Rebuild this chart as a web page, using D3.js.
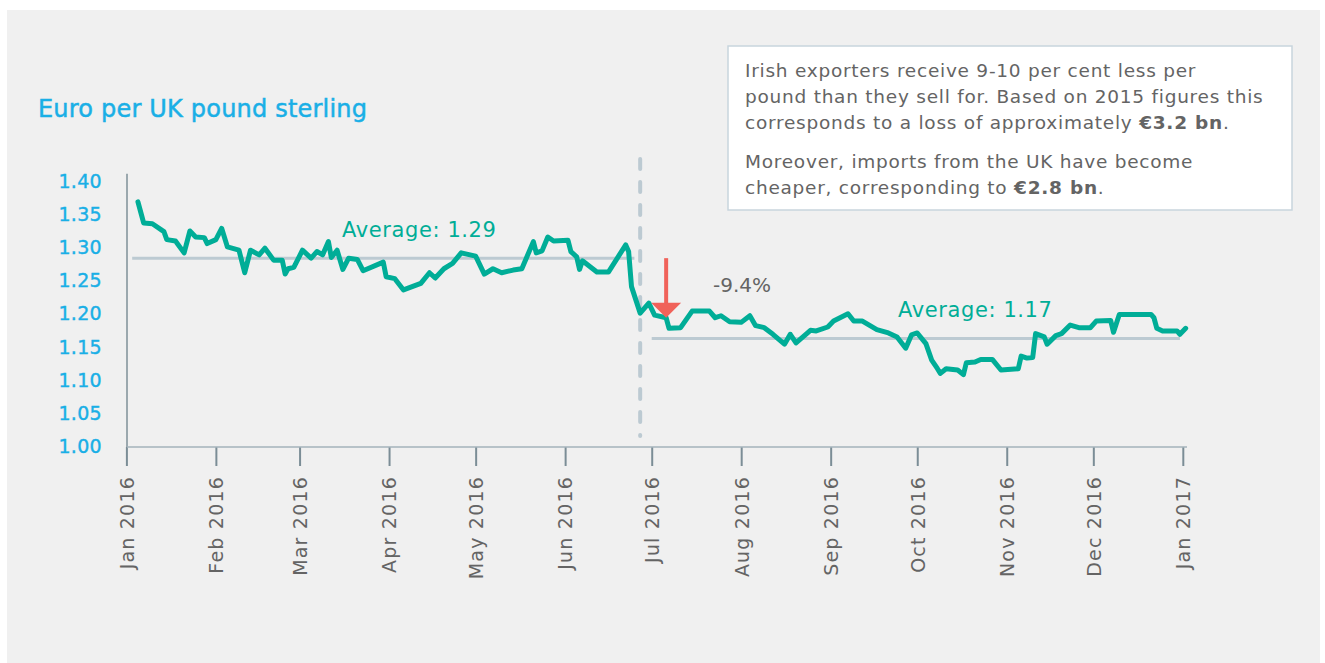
<!DOCTYPE html>
<html>
<head>
<meta charset="utf-8">
<script src="https://cdn.jsdelivr.net/npm/d3@7"></script>
<style>
  html, body { margin: 0; padding: 0; background: #ffffff; }
  svg { display: block; font-family: "DejaVu Sans", sans-serif; }
</style>
</head>
<body>
<svg id="chart" width="1325" height="663"></svg>
<script>
// ---------- DATA ----------
const dates = [
  "2016-01-05","2016-01-06","2016-01-07","2016-01-10","2016-01-14","2016-01-15","2016-01-18","2016-01-21","2016-01-23","2016-01-25",
  "2016-01-28","2016-01-29","2016-02-01","2016-02-03","2016-02-05","2016-02-09","2016-02-11","2016-02-13","2016-02-16","2016-02-18",
  "2016-02-21","2016-02-24","2016-02-25","2016-02-26","2016-02-28","2016-03-02","2016-03-05","2016-03-07","2016-03-09","2016-03-11",
  "2016-03-12","2016-03-14","2016-03-16","2016-03-18","2016-03-21","2016-03-23","2016-03-30","2016-03-31","2016-04-03","2016-04-06",
  "2016-04-12","2016-04-15","2016-04-17","2016-04-20","2016-04-23","2016-04-26","2016-05-01","2016-05-04","2016-05-07","2016-05-10",
  "2016-05-14","2016-05-17","2016-05-21","2016-05-22","2016-05-24","2016-05-26","2016-05-28","2016-06-02","2016-06-03","2016-06-05",
  "2016-06-06","2016-06-07","2016-06-12","2016-06-16","2016-06-22","2016-06-23","2016-06-24","2016-06-27","2016-06-30","2016-07-02",
  "2016-07-06","2016-07-07","2016-07-11","2016-07-15","2016-07-21","2016-07-23","2016-07-25","2016-07-28","2016-08-01","2016-08-04",
  "2016-08-06","2016-08-09","2016-08-12","2016-08-16","2016-08-18","2016-08-20","2016-08-25","2016-08-27","2016-08-31","2016-09-02",
  "2016-09-07","2016-09-09","2016-09-12","2016-09-17","2016-09-21","2016-09-24","2016-09-27","2016-09-29","2016-10-01","2016-10-04",
  "2016-10-06","2016-10-08","2016-10-09","2016-10-11","2016-10-15","2016-10-17","2016-10-18","2016-10-21","2016-10-23","2016-10-27",
  "2016-10-30","2016-11-05","2016-11-06","2016-11-08","2016-11-10","2016-11-11","2016-11-14","2016-11-15","2016-11-18","2016-11-20",
  "2016-11-23","2016-11-26","2016-11-30","2016-12-02","2016-12-07","2016-12-08","2016-12-10","2016-12-21","2016-12-22","2016-12-23",
  "2016-12-25","2016-12-30","2016-12-31","2017-01-02"
];
const eurPerGbp = [
  1.368,1.352,1.336,1.335,1.323,1.311,1.309,1.291,1.324,1.315,
  1.314,1.305,1.311,1.328,1.300,1.295,1.261,1.295,1.288,1.298,
  1.280,1.280,1.259,1.267,1.269,1.295,1.283,1.293,1.288,1.308,
  1.284,1.295,1.266,1.283,1.281,1.264,1.277,1.255,1.252,1.235,
  1.245,1.261,1.253,1.267,1.275,1.291,1.286,1.259,1.267,1.261,
  1.265,1.267,1.308,1.291,1.294,1.315,1.309,1.310,1.293,1.285,
  1.266,1.279,1.262,1.262,1.303,1.293,1.240,1.200,1.215,1.197,
  1.193,1.177,1.178,1.203,1.203,1.193,1.196,1.187,1.186,1.196,
  1.181,1.178,1.168,1.153,1.168,1.155,1.174,1.173,1.179,1.188,
  1.199,1.188,1.188,1.175,1.170,1.164,1.147,1.167,1.170,1.154,
  1.129,1.116,1.109,1.116,1.114,1.107,1.125,1.126,1.130,1.130,
  1.114,1.116,1.135,1.132,1.133,1.169,1.164,1.153,1.166,1.169,
  1.182,1.178,1.178,1.188,1.189,1.171,1.198,1.198,1.193,1.177,
  1.173,1.173,1.168,1.177
];
const yTicks = [1.00, 1.05, 1.10, 1.15, 1.20, 1.25, 1.30, 1.35, 1.40];
const xTickDates = ["2016-01-01","2016-02-01","2016-03-01","2016-04-01","2016-05-01","2016-06-01",
                    "2016-07-01","2016-08-01","2016-09-01","2016-10-01","2016-11-01","2016-12-01","2017-01-01"];
const averageLabels = ["Average: 1.29", "Average: 1.17"];
const averageValues = [1.283, 1.1615];
const averageStart = ["2016-01-03", "2016-07-01"];
const averageEnd = ["2016-06-25", "2016-12-31"];
const referendumDate = "2016-06-27";
const arrowDate = "2016-07-06";
const arrowFrom = 1.283;
const arrowTo = 1.193;
const changeLabel = "-9.4%";
const title = "Euro per UK pound sterling";
const noteLines = [
  [["Irish exporters receive 9-10 per cent less per", false]],
  [["pound than they sell for. Based on 2015 figures this", false]],
  [["corresponds to a loss of approximately ", false], ["€3.2 bn", true], [".", false]],
  [["Moreover, imports from the UK have become", false]],
  [["cheaper, corresponding to ", false], ["€2.8 bn", true], [".", false]]
];

// ---------- CHART ----------
const parse = d3.utcParse("%Y-%m-%d");
const series = dates.map((d, i) => ({ date: parse(d), value: eurPerGbp[i] }));

const svg = d3.select("#chart");
const W = 1325, H = 663;

svg.append("rect").attr("x", 7).attr("y", 10).attr("width", 1313).attr("height", H - 10)
  .attr("fill", "#f0f0f0");

const x = d3.scaleUtc().domain([parse("2016-01-01"), parse("2017-01-01")]).range([126.4, 1182.8]);
const y = d3.scaleLinear().domain([1.0, 1.4]).range([445.5, 180.7]);

const blue = "#1aafe6";
const teal = "#00ad97";
const grey = "#646464";
const avgColor = "#bccad2";

// title
svg.append("text").attr("x", 38).attr("y", 117).text(title)
  .attr("font-size", 24).attr("letter-spacing", 0.2)
  .attr("fill", blue).attr("stroke", blue).attr("stroke-width", 0.5);

// y axis
const yAxis = d3.axisLeft(y).tickValues(yTicks).tickFormat(d3.format(".2f")).tickSize(0).tickPadding(25);
const gy = svg.append("g").attr("transform", "translate(127,0)").call(yAxis);
gy.select(".domain").remove();
gy.selectAll("text").attr("font-size", 19).attr("fill", blue).attr("stroke", blue).attr("stroke-width", 0.4)
  .attr("font-family", "DejaVu Sans").attr("letter-spacing", 0.3).attr("dy", "0.36em");
svg.append("line").attr("x1", 127).attr("x2", 127).attr("y1", y(1.4) - 7).attr("y2", 447)
  .attr("stroke", "#7f9099").attr("stroke-width", 1.5);

// x axis
const xAxis = d3.axisBottom(x).tickValues(xTickDates.map(parse)).tickFormat(d3.utcFormat("%b %Y")).tickSize(19).tickPadding(0);
const gx = svg.append("g").attr("transform", "translate(0,447)").call(xAxis);
gx.select(".domain").remove();
gx.append("line").attr("x1", 127).attr("x2", 1187).attr("y1", 0).attr("y2", 0)
  .attr("stroke", "#a4b3bb").attr("stroke-width", 1.5);
gx.selectAll(".tick line").attr("stroke", "#7b8d96").attr("stroke-width", 2);
gx.selectAll(".tick text")
  .attr("transform", "rotate(-90)")
  .attr("x", -29).attr("y", 0).attr("dy", "0.36em")
  .attr("text-anchor", "end")
  .attr("font-size", 19).attr("letter-spacing", 1.2)
  .attr("font-family", "DejaVu Sans").attr("fill", grey);

// average lines
averageValues.forEach((v, i) => {
  svg.append("line")
    .attr("x1", x(parse(averageStart[i]))).attr("x2", x(parse(averageEnd[i])))
    .attr("y1", y(v)).attr("y2", y(v))
    .attr("stroke", avgColor).attr("stroke-width", 3);
});

// referendum dashed line
svg.append("line")
  .attr("x1", x(parse(referendumDate))).attr("x2", x(parse(referendumDate)))
  .attr("y1", 159).attr("y2", 436)
  .attr("stroke", avgColor).attr("stroke-width", 4).attr("stroke-linecap", "round")
  .attr("stroke-dasharray", "10,13");

// series line
const line = d3.line().x(d => x(d.date)).y(d => y(d.value)).curve(d3.curveLinear);
svg.append("path").datum(series).attr("d", line)
  .attr("fill", "none").attr("stroke", teal).attr("stroke-width", 5)
  .attr("stroke-linejoin", "round").attr("stroke-linecap", "round");

// average labels
svg.append("text").attr("x", 342).attr("y", 237).text(averageLabels[0])
  .attr("font-size", 21).attr("letter-spacing", 0.6).attr("fill", teal);
svg.append("text").attr("x", 898).attr("y", 317).text(averageLabels[1])
  .attr("font-size", 21).attr("letter-spacing", 0.6).attr("fill", teal);

// arrow
const ax = x(parse(arrowDate));
const yTop = y(arrowFrom), yTip = y(arrowTo);
const red = "#f0625a";
svg.append("line").attr("x1", ax).attr("x2", ax).attr("y1", yTop).attr("y2", yTip - 14)
  .attr("stroke", red).attr("stroke-width", 4);
svg.append("path")
  .attr("d", `M${ax - 15},${yTip - 15} L${ax + 15},${yTip - 15} L${ax},${yTip} Z`)
  .attr("fill", red);
svg.append("text").attr("x", 713).attr("y", 292).text(changeLabel)
  .attr("font-size", 20).attr("fill", grey);

// note box
svg.append("rect").attr("x", 728).attr("y", 46).attr("width", 564).attr("height", 164)
  .attr("fill", "#ffffff").attr("stroke", "#c8d5dd").attr("stroke-width", 1.5);
const baselines = [77, 103, 129, 168, 194];
noteLines.forEach((parts, i) => {
  const t = svg.append("text").attr("x", 745).attr("y", baselines[i])
    .attr("font-size", 18.5).attr("letter-spacing", 0.75).attr("fill", grey);
  parts.forEach(([s, b]) => {
    t.append("tspan").text(s).attr("font-weight", b ? "bold" : "normal");
  });
});
</script>
</body>
</html>
